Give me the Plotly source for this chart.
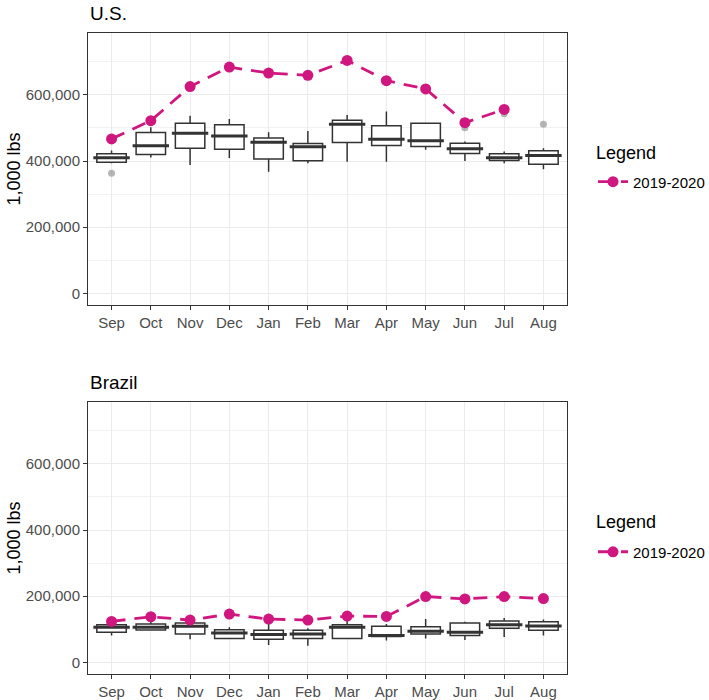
import plotly.graph_objects as go
from plotly.subplots import make_subplots

months = ["Sep", "Oct", "Nov", "Dec", "Jan", "Feb", "Mar", "Apr", "May", "Jun", "Jul", "Aug"]

# U.S. historical distribution (1,000 lbs)
us_low = [393000, 411000, 388000, 409000, 368000, 393000, 398000, 398000, 434000, 400000, 393000, 375000]
us_q1 = [396000, 420000, 439000, 436000, 406000, 401000, 456000, 447000, 444000, 423000, 402000, 390000]
us_med = [410000, 446000, 484000, 476000, 457000, 443000, 511000, 466000, 461000, 437000, 410000, 417000]
us_q3 = [422000, 486000, 514000, 510000, 470000, 453000, 523000, 507000, 514000, 454000, 422000, 431000]
us_high = [432000, 502000, 537000, 527000, 487000, 491000, 539000, 550000, 514000, 459000, 429000, 439000]
us_out_month = ["Sep", "Jun", "Jul", "Aug"]
us_out_val = [363000, 501000, 543000, 511000]
us_2019 = [467000, 522000, 625000, 684000, 666000, 659000, 704000, 643000, 618000, 516000, 556000, None]

# Brazil historical distribution (1,000 lbs)
br_low = [81000, 98000, 70000, 70000, 53000, 50000, 70000, 66000, 72000, 68000, 77000, 81000]
br_q1 = [91000, 98000, 86000, 72000, 70000, 72000, 72000, 78000, 86000, 81000, 103000, 97000]
br_med = [106000, 106000, 109000, 89000, 84000, 86000, 106000, 81000, 94000, 91000, 114000, 110000]
br_q3 = [114000, 116000, 119000, 99000, 97000, 97000, 114000, 109000, 108000, 119000, 125000, 123000]
br_high = [119000, 122000, 124000, 106000, 119000, 103000, 127000, 116000, 131000, 123000, 134000, 130000]
br_2019 = [124000, 138000, 128000, 146000, 131000, 128000, 140000, 139000, 199000, 192000, 199000, 193000]

y_ticks = [0, 200000, 400000, 600000]
y_tick_labels = ["0", "200,000", "400,000", "600,000"]
y_minor = [100000, 300000, 500000, 700000]

PINK = "#D0167F"
BOXLINE = "#333333"
FONT = "Liberation Sans, Arial, sans-serif"

fig = make_subplots(rows=2, cols=1, vertical_spacing=0.0)

def add_panel(row, low, q1, med, q3, high, line_vals, legend_name, out_m=None, out_v=None):
    fig.add_trace(go.Box(
        x=months, q1=q1, median=med, q3=q3, lowerfence=low, upperfence=high,
        fillcolor="white", line=dict(color=BOXLINE, width=1.5), width=0.75,
        whiskerwidth=0, boxpoints=False, showlegend=False, hoverinfo="skip",
    ), row=row, col=1)
    # thicker median bar
    fig.add_trace(go.Scatter(
        x=months, y=med, mode="markers",
        marker=dict(symbol="line-ew", size=26, line=dict(color=BOXLINE, width=3)),
        showlegend=False, hoverinfo="skip",
    ), row=row, col=1)
    if out_m:
        fig.add_trace(go.Scatter(
            x=out_m, y=out_v, mode="markers",
            marker=dict(color="rgba(150,150,150,0.7)", size=7),
            showlegend=False, hoverinfo="skip",
        ), row=row, col=1)
    fig.add_trace(go.Scatter(
        x=months, y=line_vals, mode="lines+markers", name="2019-2020",
        line=dict(color=PINK, width=2.8, dash="14px,9px"),
        marker=dict(color=PINK, size=11),
        legend=legend_name, connectgaps=False,
    ), row=row, col=1)

add_panel(1, us_low, us_q1, us_med, us_q3, us_high, us_2019, "legend", us_out_month, us_out_val)
add_panel(2, br_low, br_q1, br_med, br_q3, br_high, br_2019, "legend2")

top_dom = [0.5757, 1.0]
bot_dom = [0.0, 0.4243]

axis_common = dict(
    showline=True, linecolor=BOXLINE, linewidth=1, mirror=True,
    ticks="outside", ticklen=4, tickcolor=BOXLINE, tickwidth=1,
    tickfont=dict(family=FONT, size=15, color="#4D4D4D"),
    gridcolor="#EBEBEB", gridwidth=1.2, zeroline=False, automargin=False,
)

for i, dom in ((1, top_dom), (2, bot_dom)):
    xa = "xaxis" if i == 1 else "xaxis2"
    ya = "yaxis" if i == 1 else "yaxis2"
    fig.update_layout({
        xa: dict(axis_common, type="category", categoryorder="array", categoryarray=months,
                 range=[-0.6, 11.6]),
        ya: dict(axis_common, domain=dom, range=[-35000, 787000], tickvals=y_ticks,
                 ticktext=y_tick_labels,
                 minor=dict(tickvals=y_minor, showgrid=True,
                            gridcolor="#F2F2F2", gridwidth=0.8, ticks=""),
                 title=dict(text="1,000 lbs", font=dict(family=FONT, size=18, color="black"),
                            standoff=0)),
    })

legend_common = dict(
    xref="container", xanchor="left", yanchor="middle", x=0.8364,
    font=dict(size=15, family=FONT, color="black"), bgcolor="rgba(0,0,0,0)",
)

title_font = dict(family=FONT, size=19, color="black")
leg_title_font = dict(family=FONT, size=18, color="black")

fig.update_layout(
    width=709, height=700,
    margin=dict(l=88, r=142, t=33, b=26, autoexpand=False),
    paper_bgcolor="white", plot_bgcolor="white",
    font=dict(family=FONT, color="black"),
    legend=dict(legend_common, y=0.7676),
    legend2=dict(legend_common, y=0.1903),
    annotations=[
        dict(text="U.S.", xref="paper", yref="paper", x=0, y=top_dom[1], xanchor="left",
             yanchor="bottom", yshift=7, showarrow=False, font=title_font),
        dict(text="Brazil", xref="paper", yref="paper", x=0, y=bot_dom[1], xanchor="left",
             yanchor="bottom", yshift=7, showarrow=False, font=title_font),
        dict(text="Legend", xref="paper", yref="paper", x=1.0564, y=0.8128, xanchor="left",
             yanchor="middle", showarrow=False, font=leg_title_font),
        dict(text="Legend", xref="paper", yref="paper", x=1.0564, y=0.2371, xanchor="left",
             yanchor="middle", showarrow=False, font=leg_title_font),
    ],
)

fig.write_html("out.html", config={"displayModeBar": False},
               post_script="document.body.style.margin='0px';")
